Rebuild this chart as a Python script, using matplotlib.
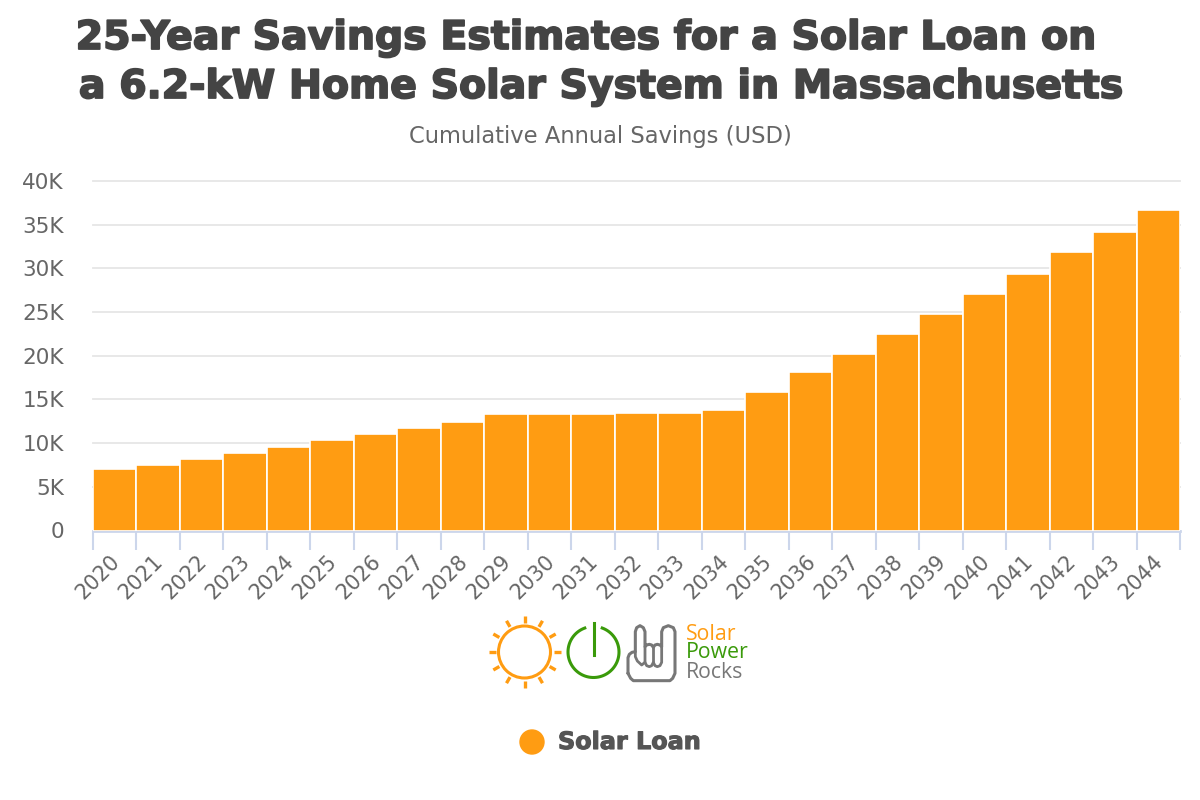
"""Cumulative savings for a solar loan, column chart with logo"""

import matplotlib
matplotlib.use('Agg')
import matplotlib.pyplot as plt
import matplotlib.patheffects as pe
import numpy as np
from matplotlib.patches import Circle
from matplotlib.transforms import ScaledTranslation

years = [str(y) for y in range(2020, 2045)]
savings = [7050, 7500, 8200, 8900, 9600, 10400, 11000, 11700, 12400, 13300,
           13300, 13300, 13500, 13500, 13800, 15800, 18100, 20200, 22500, 24800,
           27100, 29400, 31900, 34200, 36700]
y_ticks = [0, 5000, 10000, 15000, 20000, 25000, 30000, 35000, 40000]
y_labels = ['0', '5K', '10K', '15K', '20K', '25K', '30K', '35K', '40K']

ORANGE = '#ff9c12'
GREEN = '#3a9a0a'
GREY = '#777777'

fig = plt.figure(figsize=(12, 8), dpi=100)
ax = fig.add_axes([93 / 1200, 1 - 530.5 / 800, (1180 - 93) / 1200, 349.5 / 800])

ax.bar(range(len(years)), savings, width=1.0, color=ORANGE, edgecolor='white', linewidth=1.2, zorder=3)
ax.set_xlim(-0.5, len(years) - 0.5)
ax.set_ylim(0, 40000)
ax.set_yticks(y_ticks, y_labels, fontsize=15.5, color='#666666')
ax.tick_params(axis='y', length=0, pad=21)
ax.grid(axis='y', color='#e6e6e6', linewidth=1.3, zorder=0, clip_on=False)
ax.set_axisbelow(True)
for side in ['top', 'right', 'left']:
    ax.spines[side].set_visible(False)
ax.spines['bottom'].set_color('#ccd6eb')
ax.spines['bottom'].set_linewidth(2)

# ticks sit on the category edges, labels stay on the centres
ax.set_xticks(np.arange(len(years) + 1) - 0.5, minor=False)
ax.set_xticklabels([])
ax.tick_params(axis='x', length=14, width=1.5, color='#ccd6eb')
ax.set_xticks(np.arange(len(years)), minor=True)
ax.set_xticklabels(years, minor=True, fontsize=15, color='#666666', rotation=45, ha='right', va='top', rotation_mode='anchor')
ax.tick_params(axis='x', which='minor', length=0, pad=15)
shift = ScaledTranslation(-3.7 / 72, 0, fig.dpi_scale_trans)
for label in ax.get_xticklabels(minor=True):
    label.set_transform(label.get_transform() + shift)

heavy = [pe.withStroke(linewidth=1.3, foreground='#444444')]
fig.text(585 / 1200, 1 - 38 / 800, '25-Year Savings Estimates for a Solar Loan on', ha='center', va='center',
         fontsize=28.4, fontweight='bold', color='#444444', path_effects=heavy)
fig.text(600 / 1200, 1 - 87 / 800, 'a 6.2-kW Home Solar System in Massachusetts', ha='center', va='center',
         fontsize=28.4, fontweight='bold', color='#444444', path_effects=heavy)
fig.text(600 / 1200, 1 - 136 / 800, 'Cumulative Annual Savings (USD)', ha='center', va='center', fontsize=16.3, color='#666666')

# overlay in pixel coordinates for the logo and the legend
over = fig.add_axes([0, 0, 1, 1], facecolor='none')
over.set_xlim(0, 1200)
over.set_ylim(800, 0)
over.axis('off')

# sun
over.add_patch(Circle((524.5, 652), 26, fill=False, edgecolor=ORANGE, linewidth=2.2))
for angle in np.arange(0, 360, 30):
    c, s = np.cos(np.radians(angle)), np.sin(np.radians(angle))
    over.plot([524.5 + 29 * c, 524.5 + 36 * c], [652 + 29 * s, 652 + 36 * s], color=ORANGE, linewidth=2.4, solid_capstyle='butt')

# power symbol
t = np.radians(np.linspace(-70, 250, 80))
over.plot(593.5 + 25.5 * np.cos(t), 652 + 25.5 * np.sin(t), color=GREEN, linewidth=2.2)
over.plot([593.5, 593.5], [623, 655], color=GREEN, linewidth=2.2)


def hand_line(xs, ys, width):
    # outline traced on a 3x crop of the logo
    path_x = 620 + np.array(xs) / 3
    path_y = 615 + np.array(ys) / 3
    over.plot(path_x, path_y, color=GREY, linewidth=width, solid_joinstyle='round', solid_capstyle='round')


hand_line([24, 24, 28, 36, 46, 46, 50, 60, 70, 75, 75, 75, 80, 88, 95, 100, 105, 112, 120, 125, 125, 125, 130, 145, 160, 165, 165, 158, 150, 40, 32, 24],
          [175, 128, 118, 112, 110, 50, 38, 32, 38, 50, 95, 95, 90, 88, 90, 97, 90, 88, 90, 95, 95, 50, 38, 32, 38, 50, 175, 190, 197, 197, 190, 175], 2.2)
hand_line([46, 46, 52, 65, 75], [110, 125, 138, 150, 142], 2.0)
hand_line([75, 75, 80, 88, 95, 100, 105, 112, 120, 125, 125], [95, 142, 152, 155, 152, 142, 152, 155, 152, 142, 95], 2.0)
hand_line([100, 100], [97, 142], 2.0)

over.text(686, 634, 'Solar', color=ORANGE, fontsize=15.3, family='Open Sans', va='center', ha='left')
over.text(686, 653, 'Power', color=GREEN, fontsize=15.3, family='Open Sans', va='center', ha='left')
over.text(686, 672, 'Rocks', color=GREY, fontsize=15.3, family='Open Sans', va='center', ha='left')

# legend
over.add_patch(Circle((532, 742), 12, color=ORANGE))
over.text(558, 742, 'Solar Loan', color='#555555', fontsize=17.2, fontweight='bold', va='center', ha='left',
          path_effects=[pe.withStroke(linewidth=0.8, foreground='#555555')])

fig.savefig('out.png', dpi=100)
